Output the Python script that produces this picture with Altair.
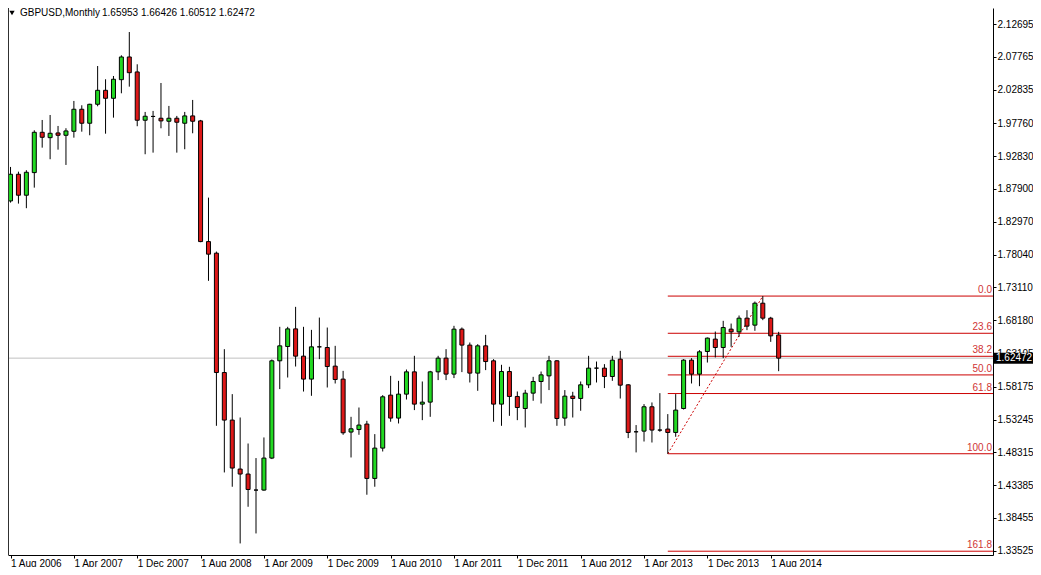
import altair as alt
import pandas as pd

# ---------------- data ----------------
symbol_title = "GBPUSD,Monthly"
header_ohlc = "1.65953 1.66426 1.60512 1.62472"
start_month = "2006-08-01"

opens = [1.8610, 1.9011, 1.8696, 1.9036, 1.9642, 1.9561, 1.9632, 1.9597, 1.9657, 1.9988,
         1.9778, 2.0063, 2.0273, 2.0153, 2.0433, 2.0774, 2.0549, 1.9823, 1.9880, 1.9853,
         1.9808, 1.9853, 1.9778, 1.9888, 1.9813, 1.7999, 1.7825, 1.6031, 1.5316, 1.4580,
         1.4505, 1.4264, 1.4264, 1.4745, 1.6207, 1.6422, 1.6687, 1.6277, 1.5932, 1.6417,
         1.6407, 1.6127, 1.5932, 1.5136, 1.5174, 1.5256, 1.4439, 1.4895, 1.5691, 1.5346,
         1.5706, 1.6041, 1.5556, 1.5586, 1.6041, 1.6247, 1.6007, 1.6683, 1.6443, 1.6022,
         1.6432, 1.6207, 1.5556, 1.6046, 1.5671, 1.5490, 1.5721, 1.5896, 1.5981, 1.6207,
         1.5346, 1.5676, 1.5641, 1.5846, 1.6097, 1.6097, 1.5971, 1.6232, 1.5846, 1.5140,
         1.5150, 1.5516, 1.5166, 1.5181, 1.5130, 1.5490, 1.6217, 1.6007, 1.6347, 1.6533,
         1.6407, 1.6683, 1.6642, 1.6848, 1.6743, 1.7073, 1.6848, 1.65953]

highs = [1.9121, 1.9050, 1.9072, 1.9672, 1.9827, 1.9902, 1.9737, 1.9703, 2.0113, 2.0048,
         2.0070, 2.0638, 2.0439, 2.0488, 2.0799, 2.1149, 2.0664, 1.9948, 1.9963, 2.0383,
         2.0038, 1.9888, 1.9948, 2.0128, 1.9828, 1.8660, 1.7849, 1.6382, 1.5706, 1.5355,
         1.4964, 1.4745, 1.5055, 1.6227, 1.6718, 1.6718, 1.7018, 1.6718, 1.6672, 1.6857,
         1.6707, 1.6432, 1.6056, 1.5365, 1.5505, 1.5305, 1.5105, 1.5691, 1.5981, 1.5906,
         1.6076, 1.6282, 1.5896, 1.6056, 1.6282, 1.6382, 1.6733, 1.6708, 1.6482, 1.6457,
         1.6597, 1.6232, 1.6147, 1.6117, 1.5746, 1.5771, 1.5966, 1.6046, 1.6282, 1.6217,
         1.5767, 1.5741, 1.5896, 1.6282, 1.6196, 1.6157, 1.6282, 1.6357, 1.5856, 1.5241,
         1.5556, 1.5581, 1.5721, 1.5406, 1.5706, 1.6232, 1.6247, 1.6367, 1.6557, 1.6647,
         1.6808, 1.6767, 1.6888, 1.6968, 1.7098, 1.7180, 1.6868, 1.66426]

lows = [1.8585, 1.8570, 1.8501, 1.8810, 1.9411, 1.9237, 1.9381, 1.9151, 1.9561, 1.9651,
        1.9597, 2.0033, 1.9621, 1.9862, 2.0228, 2.0328, 1.9733, 1.9312, 1.9336, 1.9702,
        1.9587, 1.9336, 1.9387, 1.9627, 1.7990, 1.7409, 1.5230, 1.4529, 1.4314, 1.3462,
        1.4013, 1.3612, 1.4254, 1.4730, 1.5782, 1.5956, 1.6121, 1.5745, 1.5681, 1.6232,
        1.5806, 1.5866, 1.5095, 1.4754, 1.5095, 1.4194, 1.4314, 1.4844, 1.5291, 1.5265,
        1.5625, 1.5466, 1.5315, 1.5365, 1.5917, 1.5917, 1.5947, 1.6037, 1.5881, 1.5756,
        1.6067, 1.5291, 1.5230, 1.5380, 1.5315, 1.5205, 1.5606, 1.5565, 1.5767, 1.5230,
        1.5230, 1.5355, 1.5456, 1.5797, 1.5881, 1.5797, 1.5906, 1.5640, 1.5045, 1.4830,
        1.4994, 1.4979, 1.5140, 1.4810, 1.5065, 1.5475, 1.5866, 1.5826, 1.6181, 1.6257,
        1.6247, 1.6417, 1.6567, 1.6668, 1.6658, 1.6818, 1.6492, 1.60512]

closes = [1.9011, 1.8696, 1.9041, 1.9642, 1.9567, 1.9627, 1.9597, 1.9662, 1.9988, 1.9778,
          2.0063, 2.0273, 2.0153, 2.0439, 2.0774, 2.0538, 1.9823, 1.9883, 1.9880, 1.9813,
          1.9853, 1.9793, 1.9888, 1.9808, 1.7999, 1.7810, 1.6031, 1.5316, 1.4595, 1.4505,
          1.4273, 1.4264, 1.4745, 1.6207, 1.6432, 1.6687, 1.6277, 1.5932, 1.6417, 1.6417,
          1.6121, 1.5926, 1.5125, 1.5185, 1.5241, 1.4439, 1.4895, 1.5666, 1.5346, 1.5706,
          1.6041, 1.5556, 1.5586, 1.6041, 1.6247, 1.6007, 1.6683, 1.6443, 1.6022, 1.6432,
          1.6196, 1.5556, 1.6046, 1.5671, 1.5505, 1.5721, 1.5896, 1.5996, 1.6207, 1.5340,
          1.5676, 1.5641, 1.5846, 1.6097, 1.6097, 1.5971, 1.6217, 1.5841, 1.5130, 1.5140,
          1.5516, 1.5166, 1.5166, 1.5130, 1.5466, 1.6217, 1.6007, 1.6342, 1.6548, 1.6407,
          1.6707, 1.6642, 1.6848, 1.6728, 1.7073, 1.6848, 1.6582, 1.62472]

x_tick_index = [0, 8, 16, 24, 32, 40, 48, 56, 64, 72, 80, 88, 96]
x_tick_labels = ["1 Aug 2006", "1 Apr 2007", "1 Dec 2007", "1 Aug 2008", "1 Apr 2009",
                 "1 Dec 2009", "1 Aug 2010", "1 Apr 2011", "1 Dec 2011", "1 Aug 2012",
                 "1 Apr 2013", "1 Dec 2013", "1 Aug 2014"]

y_tick_values = [2.12695, 2.07765, 2.02835, 1.97760, 1.92830, 1.87900, 1.82970, 1.78040,
                 1.73110, 1.68180, 1.63105, 1.58175, 1.53245, 1.48315, 1.43385, 1.38455,
                 1.33525]

fib_levels = ["0.0", "23.6", "38.2", "50.0", "61.8", "100.0", "161.8"]
fib_prices = [1.7180, 1.6621, 1.6275, 1.5995, 1.5715, 1.4810, 1.3345]
fib_start_index = 83

trend_index = [83, 95]
trend_price = [1.4810, 1.7180]

last_price = 1.62472
last_price_label = "1.62472"

# ---------------- style ----------------
GREEN = "#22D922"
RED = "#DD1818"
FIB_LINE = "#CC0000"
FIB_TEXT = "#D03434"
FONT = "Liberation Sans"

W, H = 985, 547
PX_PER_BAR = 8
X_LEFT = 0.3125
X_DOMAIN = [X_LEFT, X_LEFT + W / PX_PER_BAR]
Y_DOMAIN = [1.32881, 2.15101]

n = len(opens)
months = pd.date_range(start_month, periods=n, freq="MS")
df = pd.DataFrame({
    "i": list(range(n)),
    "month": months.strftime("%Y-%m"),
    "open": opens, "high": highs, "low": lows, "close": closes,
})

fib_df = pd.DataFrame({"level": fib_levels, "price": fib_prices,
                       "start": [fib_start_index] * len(fib_levels)})
trend_df = pd.DataFrame({"i": trend_index, "price": trend_price})
last_df = pd.DataFrame({"p": [last_price], "label": [last_price_label]})
head_df = pd.DataFrame({"t": [symbol_title], "v": [header_ohlc]})

x_scale = alt.Scale(domain=X_DOMAIN, nice=False, zero=False)
y_scale = alt.Scale(domain=Y_DOMAIN, nice=False, zero=False)

idx_arr = "[" + ",".join(str(v) for v in x_tick_index) + "]"
lab_arr = "[" + ",".join("'" + s + "'" for s in x_tick_labels) + "]"
label_expr = ("(datum.value == " + str(x_tick_index[0]) + " ? '\u00a0' : '') + "
              "(indexof(" + idx_arr + ", datum.value) >= 0 ? " + lab_arr +
              "[indexof(" + idx_arr + ", datum.value)] : '')")

x_axis = alt.Axis(values=x_tick_index, labelExpr=label_expr, title=None, grid=False,
                  orient="bottom", tickSize=3, tickColor="black", domainColor="black",
                  labelAlign="left", labelBaseline="top", labelPadding=0,
                  labelFont=FONT, labelFontSize=10, labelColor="black",
                  labelOverlap=False, labelFlush=False)
y_axis = alt.Axis(values=y_tick_values, format=".5f", title=None, grid=False,
                  orient="right", tickSize=3, tickColor="black", domainColor="black",
                  labelAlign="left", labelBaseline="middle", labelPadding=1,
                  labelFont=FONT, labelFontSize=10, labelColor="black",
                  labelOverlap=False, labelFlush=False)


def X(f):
    return alt.X(f, scale=x_scale, axis=x_axis)


def Y(f):
    return alt.Y(f, scale=y_scale, axis=y_axis)


base = alt.Chart(df)

wicks = base.mark_rule(color="black", strokeWidth=1, clip=True).encode(
    x=X("i:Q"), y=Y("low:Q"), y2=alt.Y2("high"))

bodies = base.mark_bar(width=4, stroke="black", strokeWidth=1, clip=True).encode(
    x=X("i:Q"), y=Y("open:Q"), y2=alt.Y2("close"),
    fill=alt.condition("datum.close > datum.open", alt.value(GREEN), alt.value(RED)))

price_line = alt.Chart(last_df).mark_rule(color="#C0C0C0", strokeWidth=1).encode(
    y=Y("p:Q"), x=alt.value(0), x2=alt.value(W))

fib_rules = alt.Chart(fib_df).mark_rule(color=FIB_LINE, strokeWidth=1).encode(
    x=X("start:Q"), x2=alt.value(W), y=Y("price:Q"))

fib_text = alt.Chart(fib_df).mark_text(
    align="right", baseline="bottom", dy=-1, color=FIB_TEXT, font=FONT, fontSize=10
).encode(x=alt.value(W - 1), y=Y("price:Q"), text="level:N")

trend = alt.Chart(trend_df).mark_line(color=FIB_LINE, strokeWidth=1, strokeDash=[2, 2]).encode(
    x=X("i:Q"), y=Y("price:Q"))

tag_box = alt.Chart(last_df).mark_rule(color="black", strokeWidth=11, strokeCap="butt").encode(
    y=Y("p:Q"), x=alt.value(W + 1), x2=alt.value(W + 40))

tag_text = alt.Chart(last_df).mark_text(
    align="left", baseline="middle", color="white", font=FONT, fontSize=10
).encode(x=alt.value(W + 3), y=Y("p:Q"), text="label:N")

left_border = alt.Chart(last_df).mark_rule(color="#303030", strokeWidth=1).encode(
    x=alt.value(0.5), y=alt.value(0), y2=alt.value(H))

head_tri = alt.Chart(head_df).mark_point(shape="triangle-down", filled=True, color="black",
                                         size=28, opacity=1).encode(
    x=alt.value(4), y=alt.value(5))

head_title = alt.Chart(head_df).mark_text(
    align="left", baseline="middle", color="black", font=FONT, fontSize=10
).encode(x=alt.value(12), y=alt.value(4.5), text="t:N")

head_vals = alt.Chart(head_df).mark_text(
    align="left", baseline="middle", color="black", font=FONT, fontSize=10
).encode(x=alt.value(94), y=alt.value(4.5), text="v:N")

chart = alt.layer(
    price_line, fib_rules, trend, wicks, bodies, fib_text, tag_box, tag_text,
    left_border, head_tri, head_title, head_vals
).properties(
    width=W, height=H,
    padding={"left": 0, "top": 0, "right": 40, "bottom": 12},
    autosize=alt.AutoSizeParams(type="none"),
    background="white",
).configure_view(stroke=None)

chart.save("out.html", embed_options={"renderer": "svg", "actions": False})
